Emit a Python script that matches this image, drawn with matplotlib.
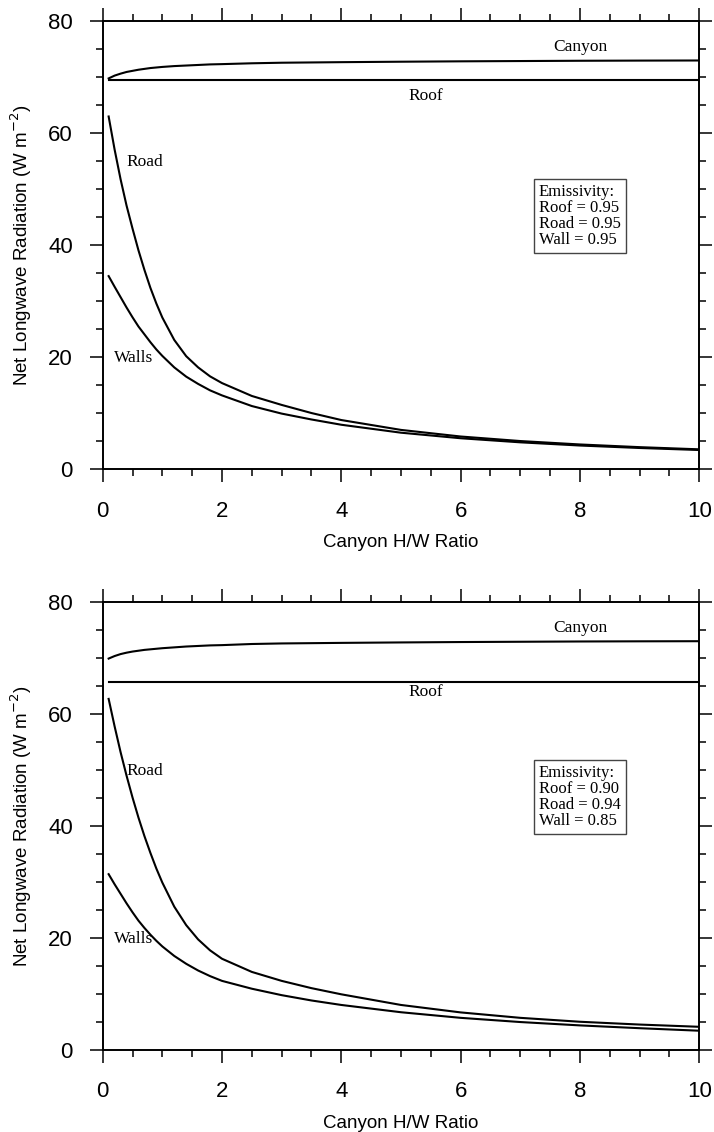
import matplotlib
matplotlib.use("Agg")
from matplotlib import pyplot as plt
from matplotlib.ticker import MultipleLocator

# H/W ratio samples
hw = [0.1, 0.2, 0.3, 0.4, 0.5, 0.6, 0.7, 0.8, 0.9, 1.0, 1.2, 1.4, 1.6, 1.8, 2.0,
      2.5, 3.0, 3.5, 4.0, 5.0, 6.0, 7.0, 8.0, 9.0, 10.0]

# top panel (emissivity 0.95 / 0.95 / 0.95)
canyon_a = [69.8, 70.3, 70.65, 70.95, 71.15, 71.35, 71.5, 71.65, 71.75, 71.85, 72.0, 72.1, 72.2,
            72.3, 72.35, 72.5, 72.6, 72.65, 72.7, 72.78, 72.85, 72.9, 72.95, 72.98, 73.0]
roof_a = [69.5] * len(hw)
road_a = [63.0, 57.1, 51.8, 47.1, 43.0, 39.1, 35.6, 32.4, 29.6, 27.1, 23.1, 20.2, 18.2, 16.6,
          15.4, 13.1, 11.5, 10.05, 8.8, 7.04, 5.86, 5.05, 4.44, 3.96, 3.57]
walls_a = [34.5, 32.6, 30.75, 28.9, 27.15, 25.5, 24.1, 22.7, 21.4, 20.25, 18.2, 16.55, 15.25,
           14.1, 13.2, 11.3, 9.95, 8.9, 7.96, 6.54, 5.55, 4.82, 4.25, 3.81, 3.45]

# bottom panel (emissivity 0.90 / 0.94 / 0.85)
canyon_b = [69.9, 70.35, 70.7, 70.95, 71.15, 71.3, 71.45, 71.55, 71.65, 71.75, 71.9, 72.05, 72.15,
            72.25, 72.3, 72.5, 72.6, 72.65, 72.7, 72.78, 72.85, 72.9, 72.95, 72.98, 73.0]
roof_b = [65.8] * len(hw)
road_b = [62.7, 57.8, 53.2, 49.0, 45.1, 41.5, 38.2, 35.2, 32.4, 29.9, 25.6, 22.3, 19.75, 17.8,
          16.3, 13.95, 12.35, 11.05, 9.95, 8.05, 6.72, 5.75, 5.05, 4.55, 4.15]
walls_b = [31.4, 29.6, 27.9, 26.2, 24.6, 23.1, 21.8, 20.6, 19.5, 18.5, 16.8, 15.4, 14.2, 13.2,
           12.35, 10.95, 9.8, 8.85, 8.05, 6.75, 5.75, 5.0, 4.4, 3.9, 3.45]

emis_a = ["Emissivity:", "Roof = 0.95", "Road = 0.95", "Wall = 0.95"]
emis_b = ["Emissivity:", "Roof = 0.90", "Road = 0.94", "Wall = 0.85"]

sans = "Liberation Sans"
serif = "Liberation Serif"


def panel(ax, canyon, roof, road, walls, emis, y_roof_lbl, y_road_lbl):
    for vals in (canyon, roof, road, walls):
        ax.plot(hw, vals, color="black", lw=1.5)

    ax.set_xlim(0, 10)
    ax.set_ylim(0, 80)
    ax.xaxis.set_major_locator(MultipleLocator(2))
    ax.xaxis.set_minor_locator(MultipleLocator(0.5))
    ax.yaxis.set_major_locator(MultipleLocator(20))
    ax.yaxis.set_minor_locator(MultipleLocator(5))
    ax.tick_params(which="both", direction="out", top=True, right=True, width=1.1)
    ax.tick_params(which="major", length=9.5)
    ax.tick_params(which="minor", length=4.8)
    ax.tick_params(axis="x", which="major", pad=13, labelsize=16)
    ax.tick_params(axis="y", which="major", pad=12, labelsize=16)
    for lbl in ax.get_xticklabels() + ax.get_yticklabels():
        lbl.set_fontfamily(sans)
    for sp in ax.spines.values():
        sp.set_linewidth(1.4)

    ax.set_xlabel("Canyon H/W Ratio", fontsize=13.5, family=sans, labelpad=9)
    ax.set_ylabel("Net Longwave Radiation (W m$^{-2}$)", fontsize=13.5, family=sans, labelpad=10)

    ax.text(8.0, 75.4, "Canyon", family=serif, fontsize=12.5, ha="center", va="center")
    ax.text(5.42, y_roof_lbl, "Roof", family=serif, fontsize=12.5, ha="center", va="center")
    ax.text(0.4, y_road_lbl, "Road", family=serif, fontsize=12.5, ha="left", va="center")
    ax.text(0.19, 19.9, "Walls", family=serif, fontsize=12.5, ha="left", va="center")

    ax.text(7.31, 50.9, "\n".join(emis), family=serif, fontsize=12, ha="left", va="top",
            linespacing=1.0,
            bbox=dict(boxstyle="square,pad=0.3", fc="white", ec="#444444", lw=1.0))


fig = plt.figure(figsize=(7.14, 11.32), dpi=100)
ax1 = fig.add_axes([0.1438, 0.5854, 0.8356, 0.3958])
ax2 = fig.add_axes([0.1438, 0.0724, 0.8356, 0.3958])

panel(ax1, canyon_a, roof_a, road_a, walls_a, emis_a, 66.7, 54.9)
panel(ax2, canyon_b, roof_b, road_b, walls_b, emis_b, 63.9, 49.9)

fig.savefig("out.png", dpi=100)
